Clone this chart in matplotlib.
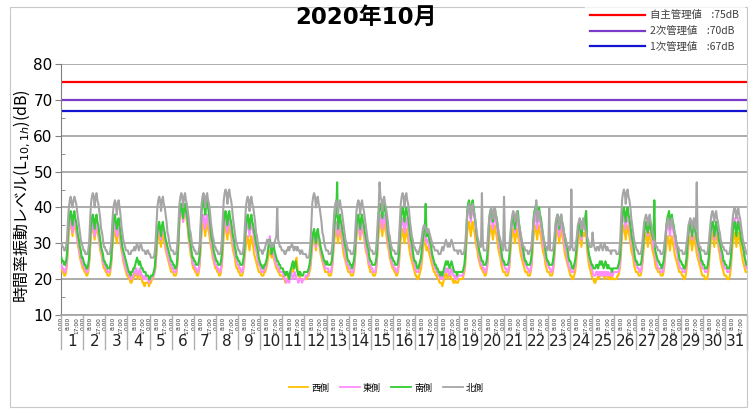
import numpy as np
import matplotlib
matplotlib.use("Agg")
import matplotlib.pyplot as plt
import matplotlib.transforms as mtransforms
from matplotlib.lines import Line2D
from matplotlib.patches import Rectangle

plt.rcParams['font.family'] = ['DejaVu Sans', 'Noto Sans CJK JP']
plt.rcParams['mathtext.fontset'] = 'dejavusans'

# hourly L10 values (dB), one string per day, 0:00 .. 23:00
nishi_days = [
    "23 22 22 21 21 22 24 29 33 35 36 34 32 35 36 34 33 31 29 28 26 25 24 23",
    "23 22 22 21 21 22 24 28 32 34 35 33 31 34 35 33 32 30 28 27 26 24 23 23",
    "22 22 21 21 21 22 24 28 31 33 34 32 30 33 34 32 30 28 27 25 24 23 22 21",
    "21 20 20 19 19 20 20 21 21 22 21 20 21 22 21 20 19 19 18 19 19 19 19 18",
    "19 19 20 20 21 22 23 27 30 32 33 31 29 32 33 31 30 28 27 26 25 24 23 22",
    "22 22 21 21 21 22 25 30 37 39 40 38 36 39 40 38 36 34 31 29 27 26 24 23",
    "23 22 22 21 21 22 24 29 33 35 36 34 32 35 36 34 33 31 29 28 26 25 24 23",
    "23 22 22 21 21 22 24 28 32 34 35 33 31 34 35 33 32 30 28 27 26 24 23 23",
    "22 22 21 21 21 22 24 27 29 31 32 30 28 31 32 30 29 27 26 25 24 23 22 22",
    "22 21 21 21 22 22 23 24 26 27 28 27 26 27 26 25 24 23 23 22 22 21 21 21",
    "21 20 20 19 20 20 21 20 21 22 23 22 23 24 25 26 23 21 21 20 20 20 20 20",
    "20 20 20 21 21 22 23 26 29 31 32 30 28 31 32 30 29 27 26 25 24 23 22 22",
    "22 22 21 21 21 22 24 28 31 33 34 32 30 33 34 32 31 29 27 26 25 24 23 22",
    "22 22 21 21 21 22 24 28 32 34 35 33 31 34 35 33 32 30 28 27 26 24 23 22",
    "22 22 21 21 21 22 24 29 33 35 36 34 32 35 36 34 33 31 29 28 26 25 24 23",
    "23 22 22 21 21 22 24 28 31 33 34 32 30 33 34 32 31 29 27 26 25 24 23 22",
    "21 21 20 20 21 22 23 25 28 30 31 30 28 29 28 27 26 25 24 23 22 22 21 21",
    "20 20 19 19 19 18 19 20 21 22 21 20 21 22 21 20 20 19 19 20 19 19 19 20",
    "20 20 20 20 21 22 24 29 33 35 36 34 32 35 36 34 33 31 29 28 26 25 24 23",
    "23 22 22 21 21 22 24 28 32 34 35 33 31 34 35 33 32 30 28 27 26 24 23 22",
    "22 22 21 21 21 22 24 28 31 33 34 32 30 33 34 32 31 29 27 26 25 24 23 22",
    "22 22 21 21 21 22 24 28 32 34 35 33 31 34 35 33 32 30 28 27 26 24 23 22",
    "22 22 21 21 21 22 24 28 31 33 34 32 30 33 34 32 31 29 27 26 25 24 23 22",
    "21 21 20 20 21 22 24 27 30 32 33 31 29 32 33 32 33 34 28 26 24 23 22 21",
    "20 20 19 19 20 20 21 20 21 22 21 22 21 20 21 22 21 20 21 20 20 21 20 20",
    "20 20 20 21 21 22 24 28 32 34 35 33 31 34 35 33 32 30 28 27 26 24 23 22",
    "22 22 21 21 21 22 24 27 30 32 33 31 29 32 33 31 30 28 27 26 24 23 23 22",
    "22 22 21 21 21 22 24 27 29 31 32 30 28 31 32 30 29 27 26 25 24 23 22 22",
    "22 21 21 20 20 21 23 26 29 31 32 30 28 31 32 30 29 27 26 25 24 23 22 21",
    "21 21 20 20 20 21 23 27 30 32 33 31 29 32 33 31 30 28 27 25 24 23 22 21",
    "21 21 20 20 20 21 23 27 30 32 33 31 29 32 33 31 30 28 27 25 24 23 22 22",
]

higashi_days = [
    "24 23 23 22 22 23 25 30 34 36 37 35 33 36 37 35 34 32 30 29 27 26 25 24",
    "24 23 23 22 22 23 25 29 33 35 36 34 32 35 36 34 33 31 29 28 27 25 24 24",
    "23 23 22 22 22 23 25 29 33 35 36 34 32 34 35 33 31 29 28 26 25 24 23 22",
    "22 21 21 20 20 21 21 22 22 23 22 21 22 23 22 21 21 20 20 21 20 20 20 19",
    "20 20 20 21 21 22 24 28 32 34 35 33 31 34 35 33 32 30 28 27 26 25 24 24",
    "23 23 22 22 22 23 26 31 37 39 40 38 36 39 40 38 37 35 32 30 28 27 25 24",
    "24 23 23 22 22 23 25 30 35 37 38 36 34 37 38 36 35 33 31 29 28 26 25 24",
    "24 23 23 22 22 23 25 30 34 36 37 35 33 36 37 35 34 32 30 29 27 26 25 24",
    "24 23 23 22 22 23 25 29 33 35 36 34 32 35 36 34 33 31 29 28 27 25 24 24",
    "23 22 22 22 23 23 24 26 28 30 32 29 27 28 27 26 25 24 24 23 23 22 22 22",
    "22 21 20 20 19 20 20 19 21 22 21 20 21 22 21 20 20 19 20 20 20 19 20 20",
    "20 21 21 21 22 23 24 27 30 32 33 31 29 32 33 31 30 28 27 26 25 24 23 23",
    "23 23 22 22 22 23 25 29 33 35 36 34 32 35 36 34 33 31 29 28 27 25 24 24",
    "23 23 22 22 22 23 25 29 33 35 36 34 32 35 36 34 33 31 29 28 27 25 24 24",
    "23 23 22 22 22 23 25 30 35 37 38 36 34 37 38 36 35 33 31 29 28 26 25 24",
    "24 23 23 22 22 23 25 30 34 36 37 35 33 36 37 35 34 32 30 29 27 26 25 24",
    "23 22 22 22 23 24 25 27 30 32 33 32 30 31 30 29 28 27 26 25 24 23 23 22",
    "22 21 21 20 21 20 21 22 22 23 22 23 22 21 22 23 22 21 21 20 21 20 21 21",
    "21 21 21 21 22 23 26 31 37 39 40 38 36 39 40 38 37 35 32 30 28 27 25 24",
    "24 23 23 22 22 23 25 30 35 37 38 36 34 37 38 36 35 33 31 29 28 26 25 24",
    "24 23 23 22 22 23 25 30 34 36 37 35 33 36 37 35 34 32 30 29 27 26 25 24",
    "24 23 23 22 22 23 25 30 35 37 38 36 34 37 38 36 35 33 31 29 28 26 25 24",
    "24 23 23 22 22 23 25 29 33 35 36 34 32 35 36 34 33 31 29 28 27 25 24 23",
    "23 22 22 22 23 24 26 29 32 34 35 33 31 34 35 34 36 39 30 28 26 25 24 23",
    "22 21 21 21 22 22 21 22 21 22 21 22 21 22 21 22 21 22 21 21 22 21 21 22",
    "22 22 22 22 22 23 25 30 35 37 38 36 34 37 38 36 35 33 31 29 28 26 25 24",
    "24 23 23 22 22 23 25 29 33 35 36 34 32 35 36 34 33 31 29 28 27 25 24 23",
    "23 23 22 22 22 23 25 29 33 35 36 34 32 35 36 34 33 31 29 28 27 25 24 23",
    "23 23 22 22 22 23 25 29 32 34 35 33 31 34 35 33 32 30 29 27 26 25 24 23",
    "23 23 22 22 22 23 25 29 32 34 35 34 31 33 35 33 32 30 29 27 26 25 24 23",
    "23 23 22 22 22 23 25 30 34 36 37 35 33 36 37 35 34 32 30 29 27 26 24 23",
]

minami_days = [
    "26 25 25 24 24 25 27 32 36 38 39 37 35 38 39 37 36 34 32 31 29 28 26 26",
    "25 24 24 23 23 24 26 31 35 37 38 36 34 37 38 36 35 33 31 29 28 27 25 25",
    "24 24 23 23 23 24 26 30 35 37 38 36 34 36 37 35 33 31 29 28 27 26 25 24",
    "23 22 22 21 22 22 23 23 24 25 26 25 24 25 24 23 23 22 22 22 21 21 21 20",
    "20 21 21 21 22 23 26 30 33 35 36 34 32 35 36 34 33 31 30 29 28 27 26 25",
    "25 24 24 23 23 24 27 32 38 40 41 39 37 40 41 39 38 36 33 31 30 28 26 26",
    "25 25 24 24 24 25 27 33 39 41 43 40 38 41 42 40 38 36 33 31 30 28 27 26",
    "25 25 24 24 24 25 27 32 36 38 39 37 35 38 39 37 36 34 32 31 29 28 26 26",
    "25 25 24 24 24 25 27 31 35 37 38 36 34 37 38 36 35 33 32 30 29 28 26 25",
    "24 24 23 23 24 24 25 26 28 30 31 29 27 29 30 28 27 26 25 25 24 24 23 23",
    "23 22 22 21 22 22 21 20 22 23 24 25 23 24 25 23 22 21 22 22 21 21 21 22",
    "22 22 22 22 23 24 26 29 31 33 34 32 30 33 34 32 31 29 28 27 26 25 25 24",
    "25 24 24 24 24 25 27 31 35 37 38 47 34 37 38 36 35 33 32 30 29 28 26 25",
    "25 24 24 23 24 25 27 31 35 37 38 36 34 37 38 36 35 33 32 30 29 28 26 25",
    "25 24 24 24 24 25 27 32 38 40 41 39 37 40 41 39 38 36 33 31 30 28 26 26",
    "25 25 24 24 24 25 27 32 37 39 40 38 36 39 40 38 37 35 33 31 30 28 26 25",
    "25 24 23 23 24 25 26 29 31 33 34 41 32 33 32 31 30 29 27 26 25 24 24 23",
    "23 22 22 21 22 21 22 23 24 25 24 25 24 23 24 25 24 23 22 22 22 21 22 22",
    "22 22 22 22 23 24 27 32 39 41 42 40 38 41 42 40 38 36 33 31 30 28 27 26",
    "25 25 24 24 24 25 27 32 37 39 39 38 36 39 40 38 37 35 33 31 30 28 26 25",
    "25 24 24 24 24 25 27 31 35 37 38 36 34 37 38 39 36 34 32 31 29 28 26 25",
    "25 24 24 24 24 25 27 32 37 39 40 41 37 39 40 38 37 35 33 31 30 28 26 25",
    "25 24 24 24 24 25 27 31 35 37 38 36 34 37 38 36 35 33 32 30 29 28 26 25",
    "25 24 23 23 24 25 27 30 33 35 36 34 32 35 36 35 37 39 31 29 27 26 25 24",
    "24 23 23 23 24 24 23 24 25 24 25 24 23 24 25 24 23 24 23 23 23 22 23 23",
    "23 23 23 23 24 25 27 32 37 39 40 38 36 39 40 38 37 35 33 31 30 28 26 25",
    "25 24 24 24 24 25 27 30 33 35 36 34 33 35 36 34 33 32 31 42 28 27 26 25",
    "25 24 24 23 24 25 27 31 35 37 38 39 35 37 38 36 35 33 32 30 29 28 26 25",
    "25 24 24 23 23 24 26 30 33 35 36 34 32 35 36 34 33 31 30 29 28 27 25 25",
    "24 24 23 23 23 24 26 30 33 35 36 35 32 34 36 34 33 31 30 29 28 27 25 25",
    "24 24 23 23 23 24 26 30 33 35 36 34 32 35 36 34 33 31 30 29 28 26 25 24",
]

kita_days = [
    "30 29 29 28 28 29 31 36 40 42 43 41 40 42 43 42 41 39 37 35 33 31 30 29",
    "28 28 27 27 27 28 30 36 41 43 44 43 40 43 44 42 41 39 37 34 33 31 29 29",
    "28 28 27 27 27 28 30 35 39 41 42 41 38 41 42 40 38 35 33 31 30 29 28 28",
    "28 27 27 27 28 28 28 29 28 29 30 29 28 29 30 29 28 28 28 27 27 28 28 27",
    "27 26 26 26 26 27 30 35 40 42 43 42 39 42 43 41 40 38 36 33 32 30 29 28",
    "28 28 27 27 27 28 31 36 41 43 44 43 40 43 44 42 41 39 37 34 33 31 29 29",
    "28 28 27 27 27 28 30 36 41 43 44 43 40 43 44 42 41 39 36 34 32 31 29 29",
    "28 28 27 27 27 28 31 37 42 44 45 44 41 44 45 43 42 40 37 35 33 31 30 29",
    "28 28 27 27 27 28 30 35 40 42 43 42 39 42 43 41 40 38 36 33 32 30 29 28",
    "28 28 27 28 28 29 30 31 30 31 30 29 30 29 30 30 31 32 40 31 30 29 29 28",
    "28 28 27 27 28 28 29 28 29 29 30 29 28 29 29 28 29 28 28 27 28 28 27 27",
    "27 27 26 26 26 27 30 35 41 43 44 43 40 42 43 41 40 38 36 33 32 30 29 28",
    "28 28 27 27 27 28 30 35 39 41 42 41 38 41 42 40 39 37 35 33 31 30 29 28",
    "28 28 27 27 27 28 30 35 39 41 42 41 38 41 42 40 39 37 35 33 31 30 29 28",
    "28 28 27 27 27 28 31 36 40 47 43 42 39 42 43 41 40 38 36 33 32 30 29 28",
    "28 28 27 27 27 28 31 36 41 43 44 43 40 43 44 42 41 39 36 34 32 31 29 29",
    "28 28 27 27 28 29 30 32 34 35 35 34 33 34 34 33 32 31 30 29 29 28 28 28",
    "28 27 27 27 28 29 28 29 30 31 30 29 30 29 30 31 30 29 28 28 28 28 27 28",
    "28 28 27 27 27 28 30 34 38 40 41 40 37 40 41 39 38 36 34 32 31 30 29 29",
    "44 30 28 28 28 28 30 34 37 39 40 39 37 39 40 38 37 35 33 32 31 30 29 28",
    "43 30 28 28 28 28 30 33 36 38 39 38 36 38 39 37 36 34 33 31 30 29 29 28",
    "28 28 27 27 28 28 30 33 36 38 39 42 36 38 39 37 36 34 33 31 30 29 29 28",
    "29 40 28 28 28 28 30 33 36 37 38 37 35 37 38 36 35 33 32 31 30 29 29 28",
    "29 45 29 28 28 28 30 32 35 36 37 36 34 36 37 35 34 33 32 31 30 29 29 29",
    "33 30 29 28 28 29 29 28 29 30 29 28 29 30 29 28 29 28 28 28 27 28 28 28",
    "28 28 27 27 27 28 31 37 42 44 45 44 41 44 45 43 42 40 37 35 33 31 30 29",
    "28 28 27 27 27 28 30 33 36 37 38 37 35 37 38 36 35 33 32 31 30 29 29 28",
    "28 28 27 27 27 28 30 32 35 36 37 36 34 36 37 35 34 33 32 30 29 29 28 28",
    "28 28 27 27 27 28 30 32 35 36 37 36 34 36 37 35 34 47 32 30 29 29 28 28",
    "28 28 27 27 27 28 30 33 36 38 39 38 36 38 39 37 36 34 33 31 30 29 29 28",
    "28 28 27 27 27 28 30 34 37 39 40 39 37 39 40 38 37 35 33 31 30 29 28 27",
]

days = list(range(1, 32))
hour_ticks = [0, 8, 17]
hour_labels = ["0:00", "8:00", "17:00"]

series_names = ["西側", "東側", "南側", "北側"]
series_colors = ["#FFC000", "#FF8CFF", "#33CC33", "#A6A6A6"]

kanri_names = ["自主管理値", "2次管理値", "1次管理値"]
kanri_values = [75, 70, 67]
kanri_colors = ["#FF0000", "#7A3CC8", "#1414D0"]


def to_array(day_strings):
    return np.array(" ".join(day_strings).split(), dtype=float)


series = [to_array(nishi_days), to_array(higashi_days),
          to_array(minami_days), to_array(kita_days)]
n_hours = 24 * len(days)
x = np.arange(n_hours) + 0.5

fig = plt.figure(figsize=(7.53, 4.09), dpi=100)
W, H = 753, 409
ax = fig.add_axes([61 / W, 1 - 315 / H, (747 - 61) / W, (315 - 64) / H])

# chart area border
fig.patches.append(Rectangle((10 / W, 2 / H), (747 - 10) / W, (407 - 7) / H,
                             transform=fig.transFigure, fill=False,
                             edgecolor="#C8C8C8", lw=0.8))

ax.set_ylim(10, 80)
ax.set_xlim(0, n_hours)
ax.set_yticks(range(10, 81, 10))
ax.set_yticks(range(15, 80, 10), minor=True)
ax.grid(axis="y", which="major", color="#A6A6A6", lw=1.3)
ax.set_axisbelow(True)
ax.tick_params(axis="y", which="major", direction="out", length=4,
               color="#808080", labelsize=11, pad=2)
ax.tick_params(axis="y", which="minor", direction="in", length=3,
               color="#808080")
for s in ["top", "right"]:
    ax.spines[s].set_visible(False)
ax.spines["left"].set_color("#808080")
ax.spines["bottom"].set_color("#A6A6A6")
ax.spines["bottom"].set_linewidth(1.3)

for val, col in zip(kanri_values, kanri_colors):
    ax.axhline(val, color=col, lw=1.6, zorder=2)

for y, col in zip(series, series_colors):
    ax.plot(x, y, color=col, lw=1.5, zorder=3)

# hour labels under axis
ticks = [24 * (d - 1) + h for d in days for h in hour_ticks]
ax.set_xticks(ticks)
ax.set_xticklabels(hour_labels * len(days), rotation=90, fontsize=4.2,
                   color="#333333")
ax.tick_params(axis="x", length=0, pad=1.5)

# day separators and day numbers
trans = mtransforms.blended_transform_factory(ax.transData, ax.transAxes)
for k in range(len(days) + 1):
    ax.plot([24 * k, 24 * k], [0, -0.135], transform=trans, color="#B0B0B0",
            lw=1.0, clip_on=False)
for d in days:
    ax.text(24 * (d - 1) + 12, -0.105, str(d), transform=trans, ha="center",
            va="center", fontsize=11, color="#222222")

fig.text(366 / W, 1 - 17 / H, "2020年10月", ha="center", va="center",
         fontsize=16.5, fontweight="bold")
fig.text(22 / W, 1 - 196 / H, "時間率振動レベル(L$_{10,1h}$)(dB)",
         rotation=90, ha="center", va="center", fontsize=11.5,
         family=["Noto Sans CJK JP", "DejaVu Sans"])

top_handles = [Line2D([], [], color=c, lw=1.6) for c in kanri_colors]
top_labels = ["%s    :%ddB" % (n, v) for n, v in zip(kanri_names, kanri_values)]
leg1 = fig.legend(top_handles, top_labels, loc="upper right",
                  bbox_to_anchor=(0.995, 1.0), frameon=True,
                  handlelength=5.2, handletextpad=0.5, labelspacing=0.55,
                  borderpad=0.5, fancybox=False,
                  prop={"family": ["Noto Sans CJK JP"], "size": 7.5})
leg1.get_frame().set_edgecolor("white")
leg1.get_frame().set_facecolor("white")
for t in leg1.get_texts():
    t.set_color("#404040")

bot_handles = [Line2D([], [], color=c, lw=1.3) for c in series_colors]
leg2 = fig.legend(bot_handles, series_names, loc="center",
                  bbox_to_anchor=(386 / W, 1 - 388 / H), ncol=4, frameon=False,
                  handlelength=2.2, handletextpad=0.3, columnspacing=1.2,
                  prop={"family": ["Noto Sans CJK JP"], "size": 6.5})

fig.savefig("out.png", dpi=100)
